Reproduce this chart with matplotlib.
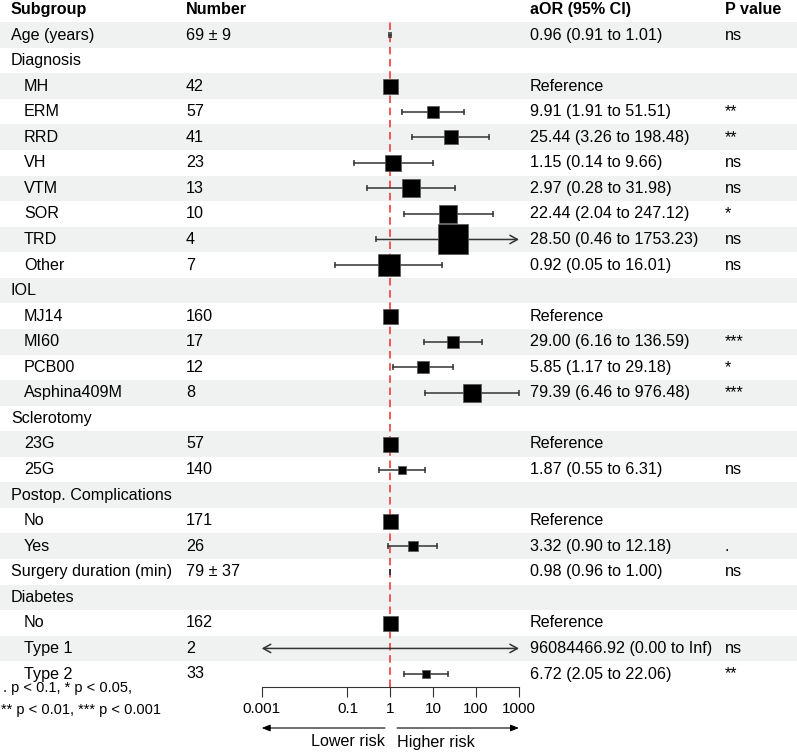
import numpy as np
import matplotlib.pyplot as plt
from matplotlib import transforms

plt.rcParams['font.family'] = ['Liberation Sans', 'DejaVu Sans']

# === Данные (строки таблицы сверху вниз) ===
subgroups = ['Age (years)', 'Diagnosis', 'MH', 'ERM', 'RRD', 'VH', 'VTM', 'SOR', 'TRD', 'Other',
             'IOL', 'MJ14', 'MI60', 'PCB00', 'Asphina409M', 'Sclerotomy', '23G', '25G',
             'Postop. Complications', 'No', 'Yes', 'Surgery duration (min)', 'Diabetes',
             'No', 'Type 1', 'Type 2']
indent = [0, 0, 1, 1, 1, 1, 1, 1, 1, 1, 0, 1, 1, 1, 1, 0, 1, 1, 0, 1, 1, 0, 0, 1, 1, 1]
numbers = ['69 ± 9', '', '42', '57', '41', '23', '13', '10', '4', '7', '', '160', '17', '12', '8',
           '', '57', '140', '', '171', '26', '79 ± 37', '', '162', '2', '33']
nan = np.nan
est = [0.96, nan, 1, 9.91, 25.44, 1.15, 2.97, 22.44, 28.50, 0.92, nan, 1, 29.00, 5.85, 79.39,
       nan, 1, 1.87, nan, 1, 3.32, 0.98, nan, 1, 96084466.92, 6.72]
lower = [0.91, nan, nan, 1.91, 3.26, 0.14, 0.28, 2.04, 0.46, 0.05, nan, nan, 6.16, 1.17, 6.46,
         nan, nan, 0.55, nan, nan, 0.90, 0.96, nan, nan, 0.00, 2.05]
upper = [1.01, nan, nan, 51.51, 198.48, 9.66, 31.98, 247.12, 1753.23, 16.01, nan, nan, 136.59,
         29.18, 976.48, nan, nan, 6.31, nan, nan, 12.18, 1.00, nan, nan, np.inf, 22.06]
pvals = ['ns', '', '', '**', '**', 'ns', 'ns', '*', 'ns', 'ns', '', '', '***', '*', '***',
         '', '', 'ns', '', '', '.', 'ns', '', '', 'ns', '**']
headers = ['Subgroup', 'Number', 'aOR (95% CI)', 'P value']
xticks = [0.001, 0.1, 1, 10, 100, 1000]
xtick_labels = ['0.001', '0.1', '1', '10', '100', '1000']

n = len(subgroups)
W, H = 797, 752
FS = 11.6
xmin, xmax = 0.001, 1000
row_h = 25.56
y0 = 35.0  # центр первой строки, px


def fx(px):
    return px / W


# === Фигура и оси ===
fig = plt.figure(figsize=(W / 100, H / 100), dpi=100)
top_px = y0 - row_h / 2
bot_px = y0 + row_h * (n - 1) + row_h / 2
ax_bottom = 1 - bot_px / H
ax_height = (bot_px - top_px) / H

bg = fig.add_axes([0, ax_bottom, 1, ax_height])
bg.set_ylim(n - 0.5, -0.5)
bg.set_xlim(0, 1)
bg.axis('off')
for i in range(0, n, 2):
    bg.axhspan(i - 0.5, i + 0.5, color='#eff2f1', lw=0)

ax = fig.add_axes([fx(261.7), ax_bottom, fx(519.0) - fx(261.7), ax_height])
ax.set_facecolor('none')
ax.set_xscale('log')
ax.set_xlim(xmin, xmax)
ax.set_ylim(n - 0.5, -0.5)
for s in ['top', 'left', 'right']:
    ax.spines[s].set_visible(False)
ax.spines['bottom'].set_color('#333333')
ax.spines['bottom'].set_linewidth(0.8)
ax.set_yticks([])
ax.set_xticks(xticks)
ax.set_xticklabels(xtick_labels, fontsize=11)
ax.minorticks_off()
ax.tick_params(axis='x', direction='out', length=7.5, width=0.8, color='#333333', pad=3.5)

# референсная линия
ax.axvline(1, color='#f03c3c', lw=1.2, ls=(0, (4.5, 2.8)), zorder=1)

# === Доверительные интервалы и квадраты ===
ci_col = '#333333'
for i in range(n):
    if np.isnan(est[i]):
        continue
    lo, hi = lower[i], upper[i]
    if np.isnan(lo):
        size_px = 15.0  # Reference
    else:
        lo_c, hi_c = max(lo, xmin), min(hi, xmax)
        left_arr, right_arr = lo < xmin, hi > xmax
        if left_arr or right_arr:
            style = '<->' if (left_arr and right_arr) else ('->' if right_arr else '<-')
            ax.annotate('', xy=(hi_c, i), xytext=(lo_c, i),
                        arrowprops=dict(arrowstyle=style + ',head_length=0.45,head_width=0.25',
                                        color=ci_col, lw=1.1, shrinkA=0, shrinkB=0,
                                        mutation_scale=12), zorder=2)
        else:
            ax.plot([lo_c, hi_c], [i, i], color=ci_col, lw=1.1, zorder=2)
        if not left_arr:
            ax.plot([lo_c], [i], marker='|', ms=4.3, mew=1.1, color=ci_col, zorder=2)
        if not right_arr:
            ax.plot([hi_c], [i], marker='|', ms=4.3, mew=1.1, color=ci_col, zorder=2)
        if np.isinf(hi) or lo <= 0:
            continue
        se = (np.log(hi) - np.log(lo)) / 3.92
        size_px = 14.3 * se
    if xmin <= est[i] <= xmax:
        ax.scatter([est[i]], [i], marker='s', s=(size_px * 0.72) ** 2, color='black',
                   edgecolors='#555555', linewidths=0.5, zorder=3)

# === Текстовые столбцы ===
trans = transforms.blended_transform_factory(fig.transFigure, ax.transData)
col_x = [11, 186, 530, 725]
for x, h in zip(col_x, headers):
    fig.text(fx(x), -1.0, h, transform=trans, fontsize=FS, fontweight='bold',
             va='center', ha='left')

for i in range(n):
    fig.text(fx(24 if indent[i] else 11), i, subgroups[i], transform=trans,
             fontsize=FS, va='center', ha='left')
    fig.text(fx(186), i, numbers[i], transform=trans, fontsize=FS, va='center', ha='left')
    if np.isnan(est[i]):
        continue
    if np.isnan(lower[i]):
        txt = 'Reference'
    else:
        hi_s = 'Inf' if np.isinf(upper[i]) else f'{upper[i]:.2f}'
        txt = f'{est[i]:.2f} ({lower[i]:.2f} to {hi_s})'
    fig.text(fx(530), i, txt, transform=trans, fontsize=FS, va='center', ha='left')
    fig.text(fx(725), i, pvals[i], transform=trans, fontsize=FS, va='center', ha='left')

# сноска
fig.text(fx(3), (688 - y0) / row_h, '. p < 0.1, * p < 0.05,', transform=trans,
         fontsize=10.5, va='center', ha='left')
fig.text(fx(1), (710 - y0) / row_h, '** p < 0.01, *** p < 0.001', transform=trans,
         fontsize=10.5, va='center', ha='left')

# стрелки "Lower risk" / "Higher risk"
y_arr = (728 - y0) / row_h
y_lab = (742 - y0) / row_h
ax.annotate('', xy=(xmin, y_arr), xytext=(0.75, y_arr), annotation_clip=False,
            arrowprops=dict(arrowstyle='-|>,head_length=0.5,head_width=0.2', color='black',
                            lw=0.8, shrinkA=0, shrinkB=0, mutation_scale=10))
ax.annotate('', xy=(xmax, y_arr), xytext=(1.43, y_arr), annotation_clip=False,
            arrowprops=dict(arrowstyle='-|>,head_length=0.5,head_width=0.2', color='black',
                            lw=0.8, shrinkA=0, shrinkB=0, mutation_scale=10))
ax.text(0.74, y_lab, 'Lower risk', fontsize=FS, ha='right', va='center', clip_on=False)
ax.text(1.45, y_lab, 'Higher risk', fontsize=FS, ha='left', va='center', clip_on=False)

fig.savefig('out.png', dpi=100)
